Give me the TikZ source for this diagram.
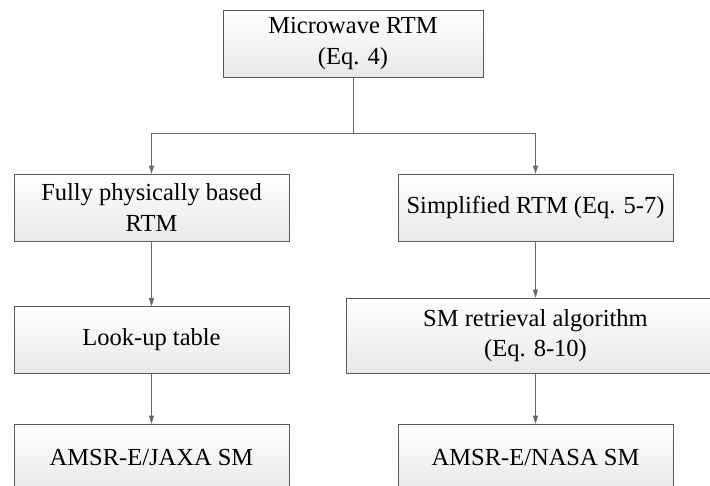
\documentclass[tikz,border=0pt]{standalone}
\usepackage{fontspec}
\setmainfont{Liberation Serif}
\usetikzlibrary{arrows.meta}

\begin{document}
\begin{tikzpicture}[x=1pt, y=-1pt,
    box/.style={draw=black!65, line width=0.8pt, top color=white, bottom color=black!9,
        align=center, inner sep=0pt, minimum width=275pt, minimum height=67pt,
        font=\fontsize{24.5}{30.5}\selectfont},
    link/.style={draw=black!60, line width=0.8pt},
    flow/.style={link, -{Triangle[length=8pt,width=5pt]}}]
    \useasboundingbox (0,0) rectangle (710,485);
    \clip (0,0) rectangle (710,485);
    \node[box, minimum width=260pt] (mw) at (353,43.5) {Microwave RTM\\(Eq. 4)};
    \node[box] (fp) at (151.5,207.5) {Fully physically based\\RTM};
    \node[box] (sr) at (535.5,207.5) {Simplified RTM (Eq. 5-7)};
    \node[box] (lut) at (151.5,340) {Look-up table};
    \node[box, minimum width=378pt, minimum height=75pt] (alg) at (535.5,335.5) {SM retrieval algorithm\\(Eq. 8-10)};
    \node[box] (jaxa) at (151.5,457.5) {AMSR-E/JAXA SM};
    \node[box] (nasa) at (535.5,457.5) {AMSR-E/NASA SM};
    \coordinate (split) at (353,133);
    \draw[link] (mw.south) -- (split);
    \draw[flow] (split) -| (fp.north);
    \draw[flow] (split) -| (sr.north);
    \draw[flow] (fp) -- (lut);
    \draw[flow] (lut) -- (jaxa);
    \draw[flow] (sr) -- (alg);
    \draw[flow] (alg) -- (nasa);
\end{tikzpicture}
\end{document}
